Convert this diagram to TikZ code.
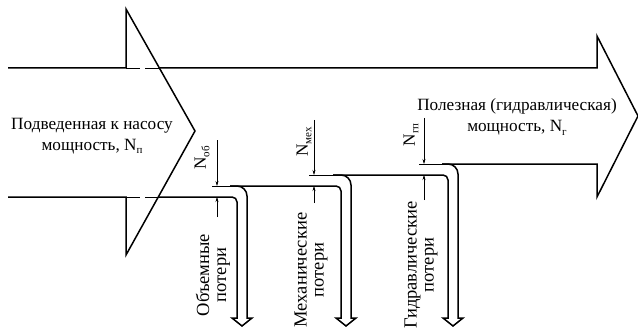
\documentclass[tikz,border=0pt]{standalone}
\usepackage{fontspec}
\setmainfont{Liberation Serif}
\usetikzlibrary{arrows.meta}
\newcommand\lsub[1]{\raisebox{-0.45ex}{\fontsize{11}{11}\selectfont #1}}
\begin{document}
\begin{tikzpicture}[x=1pt,y=-1pt,
 mainline/.style={line width=1.5pt, line join=miter},
 thinline/.style={line width=0.5pt},
 dimline/.style={line width=0.5pt, -{Stealth[length=5pt,width=3pt]}},
 lbl/.style={font=\fontsize{17.2}{21}\selectfont, align=center, inner sep=0pt},
 rlbl/.style={font=\fontsize{18.5}{17}\selectfont, align=center, inner sep=0pt, rotate=90},
]
\useasboundingbox (0,0) rectangle (638,329);
% left arrow
\draw[mainline] (8,68) -- (126,68) -- (126,9) -- (195,131) -- (126,255) -- (126,197) -- (8,197);
\draw[thinline] (126,68) -- (140,68) (145,68) -- (159,68);
\draw[thinline] (126,197) -- (140,197) (145,197) -- (158,197);
% top line and right arrow
\draw[mainline] (159,68) -- (597,68) -- (597,36) -- (638,116) -- (597,197) -- (597,164) -- (442,164);
% channel 1
\draw[mainline] (158,197) -- (232,197) .. controls (234.8,197) and (237,199.2) .. (237,202) -- (237,318) -- (232,318) -- (242,326) -- (252,318) -- (247,318) -- (247,196) .. controls (247,190.5) and (242.5,186) .. (237,186) -- (230,186);
% channel 2
\draw[mainline] (230,186) -- (336,186) .. controls (338.8,186) and (341,188.2) .. (341,191) -- (341,318) -- (336,318) -- (346,326) -- (356,318) -- (351,318) -- (351,185) .. controls (351,179.5) and (346.5,175) .. (341,175) -- (333,175);
% channel 3
\draw[mainline] (333,175) -- (443,175) .. controls (445.8,175) and (448,177.2) .. (448,180) -- (448,318) -- (443,318) -- (453,326) -- (463,318) -- (458,318) -- (458,174) .. controls (458,168.5) and (453.5,164) .. (448,164) -- (442,164);
% dimension lines
\coordinate (d1t) at (217,140); \coordinate (d1a) at (217,186);
\coordinate (d1b) at (217,217); \coordinate (d1c) at (217,197);
\draw[dimline] (d1t) -- (d1a);
\draw[dimline] (d1b) -- (d1c);
\draw[thinline] (212,186) -- (230,186);
\coordinate (d2t) at (314,120); \coordinate (d2a) at (314,175);
\coordinate (d2b) at (314,203); \coordinate (d2c) at (314,186);
\draw[dimline] (d2t) -- (d2a);
\draw[dimline] (d2b) -- (d2c);
\draw[thinline] (309,175) -- (333,175);
\coordinate (d3t) at (424,118); \coordinate (d3a) at (424,164);
\coordinate (d3b) at (424,200); \coordinate (d3c) at (424,175);
\draw[dimline] (d3t) -- (d3a);
\draw[dimline] (d3b) -- (d3c);
\draw[thinline] (419,164) -- (442,164);
% labels
\node[lbl] (tin) at (92,136) {Подведенная к насосу\\мощность, N\lsub{п}};
\node[lbl] (tout) at (517,117) {Полезная (гидравлическая)\\мощность, N\lsub{г}};
\node[lbl, rotate=90] (n1) at (202,158) {N\lsub{об}};
\node[lbl, rotate=90] (n2) at (304,142) {N\lsub{мех}};
\node[lbl, rotate=90] (n3) at (411,135) {N\lsub{гп}};
\node[rlbl] (l1) at (213,275) {Объемные\\потери};
\node[rlbl] (l2) at (311,270) {Механические\\потери};
\node[rlbl] (l3) at (421,265) {Гидравлические\\потери};
\end{tikzpicture}
\end{document}
